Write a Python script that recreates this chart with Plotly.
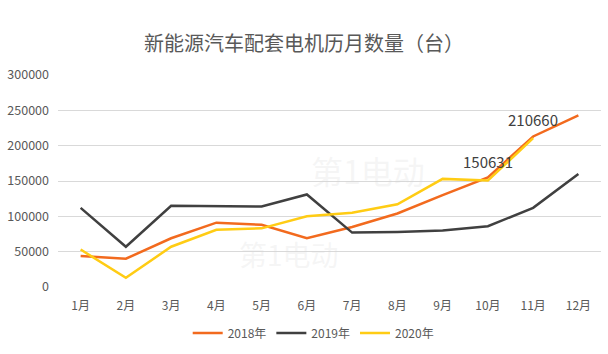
import plotly.graph_objects as go

months = ["1月", "2月", "3月", "4月", "5月", "6月", "7月", "8月", "9月", "10月", "11月", "12月"]
s2018 = [44000, 40000, 69000, 91000, 88000, 69000, 85000, 104000, 130000, 155000, 213000, 243000]
s2019 = [112000, 57000, 115000, 115000, 114000, 131000, 77000, 78000, 80000, 86000, 112000, 160000]
s2020 = [53000, 13000, 57000, 81000, 83000, 100000, 105000, 117000, 153000, 150631, 210660]
label_months = ["10月", "11月"]
label_values = [150631, 210660]

title = "新能源汽车配套电机历月数量（台）"
yticks = [0, 50000, 100000, 150000, 200000, 250000, 300000]

font_family = "Microsoft YaHei, Noto Sans CJK SC, sans-serif"

fig = go.Figure()
fig.add_trace(go.Scatter(x=months, y=s2018, mode="lines", name="2018年",
                         line=dict(color="#F26A1E", width=2.5)))
fig.add_trace(go.Scatter(x=months, y=s2019, mode="lines", name="2019年",
                         line=dict(color="#404040", width=2.5)))
fig.add_trace(go.Scatter(x=months[:len(s2020)], y=s2020, mode="lines", name="2020年",
                         line=dict(color="#FFCC14", width=2.5)))

# faint watermarks
for wx, wy, ws in [(0.57, 0.55, 32), (0.33, 0.05, 28)]:
    fig.add_annotation(xref="paper", yref="paper", x=wx, y=wy, text="第1电动",
                       showarrow=False, font=dict(size=ws, color="rgba(215,215,215,0.25)",
                                                  family=font_family))

# data labels
for m, v in zip(label_months, label_values):
    fig.add_annotation(x=m, y=v, text=str(v), showarrow=False, yanchor="middle",
                       yshift=19, font=dict(size=15, color="#404040", family=font_family))

fig.update_layout(
    width=608, height=354,
    margin=dict(l=56, r=7, t=75, b=67),
    paper_bgcolor="white", plot_bgcolor="white",
    font=dict(family=font_family, color="#595959", size=12),
    title=dict(text=title, x=0.5, xanchor="center", y=1 - 44 / 354, yanchor="middle",
               font=dict(size=20, color="#595959", family=font_family)),
    showlegend=True,
    legend=dict(orientation="h", x=0.47, xanchor="center", y=-0.217, yanchor="middle",
                font=dict(size=12, color="#595959"), itemwidth=30),
)
fig.update_xaxes(type="category", categoryorder="array", categoryarray=months,
                 showgrid=False, showline=False, ticks="", zeroline=False,
                 tickfont=dict(size=12, color="#595959"), range=[-0.5, 11.5],
                 ticklabelstandoff=10)
fig.update_yaxes(range=[0, 300000], tickvals=yticks, ticktext=[str(v) for v in yticks],
                 showgrid=True, gridcolor="#D9D9D9", gridwidth=1, zeroline=False,
                 showline=False, ticks="", tickfont=dict(size=12.5, color="#595959"),
                 ticklabelstandoff=8)

fig.write_html("out.html")
